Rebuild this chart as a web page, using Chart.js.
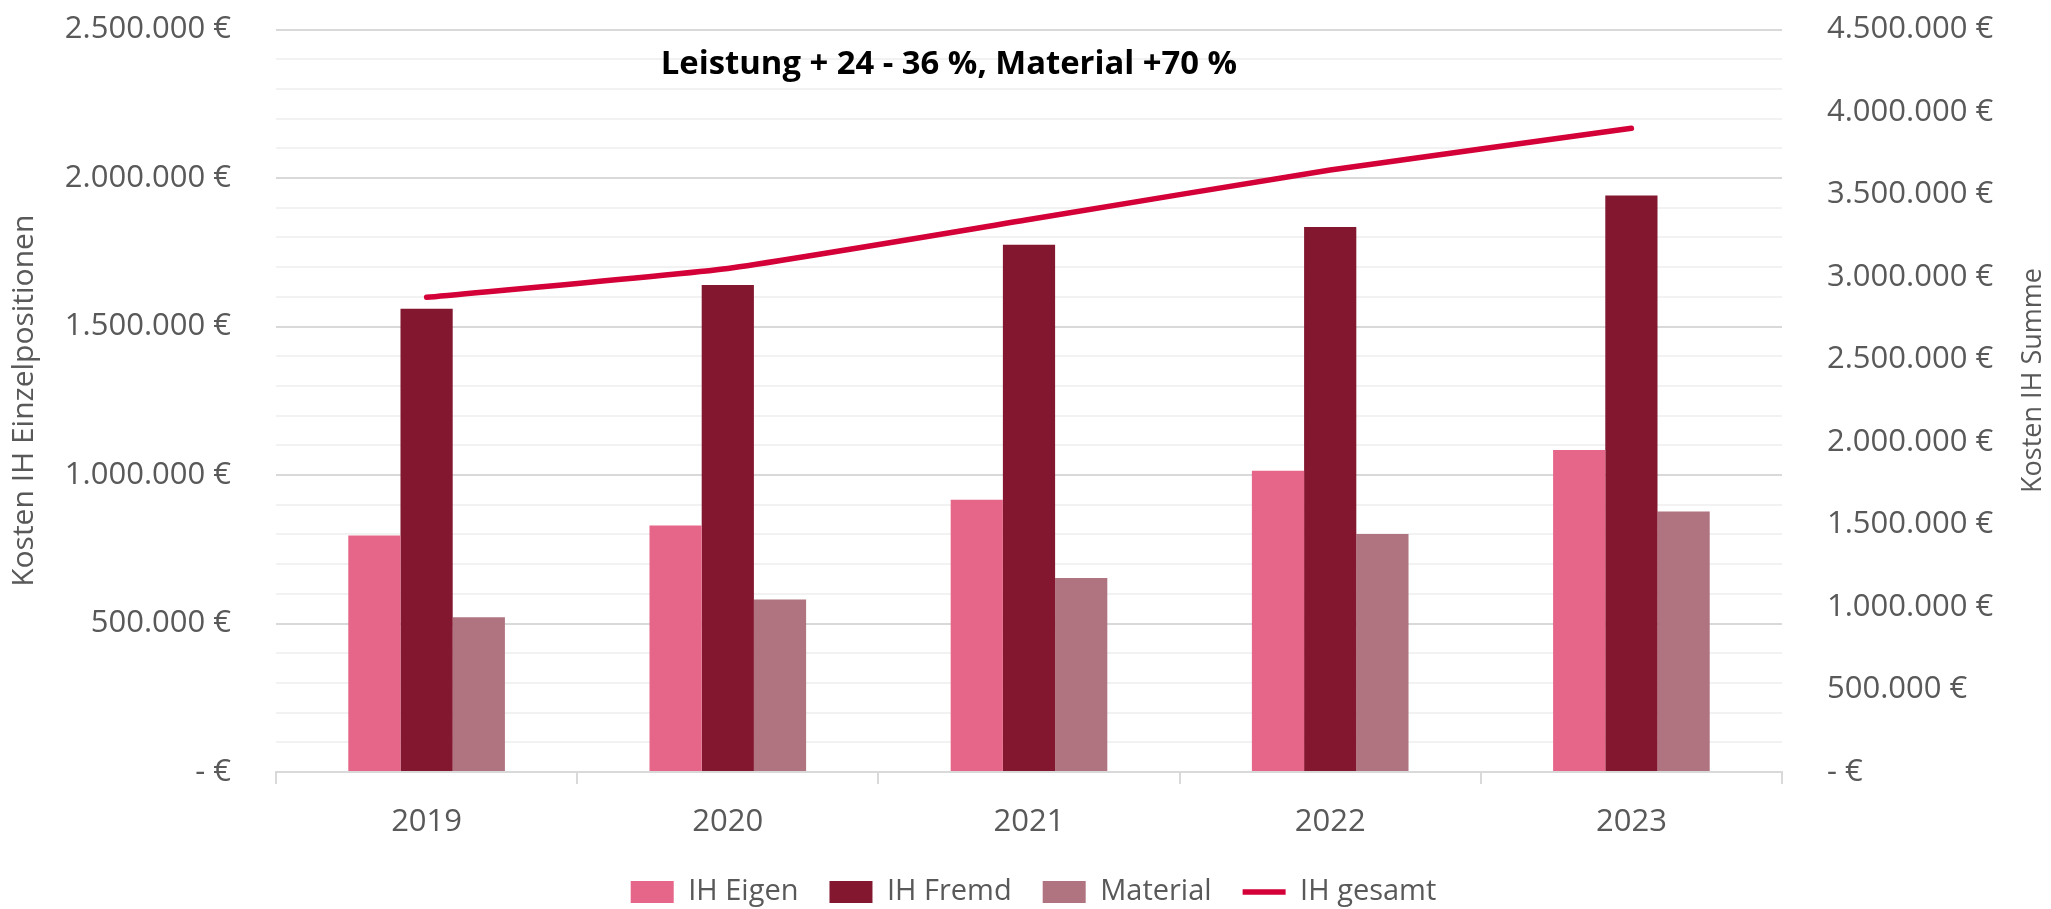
<!DOCTYPE html>
<html lang="de">
<head>
<meta charset="utf-8">
<title>Kosten IH</title>
<script src="https://cdn.jsdelivr.net/npm/chart.js@4.4.1/dist/chart.umd.min.js"></script>
<style>
    html, body { margin: 0; padding: 0; background: #ffffff; }
    #wrap { width: 2051px; height: 909px; position: relative; }
</style>
</head>
<body>
<div id="wrap"><canvas id="ihChart"></canvas></div>
<script>
// Werte
const categories = ['2019', '2020', '2021', '2022', '2023'];
const ihEigen = [796000, 830000, 917000, 1014000, 1084000];
const ihFremd = [1560000, 1640000, 1775000, 1835000, 1941000];
const material = [521000, 581000, 653000, 801000, 877000];
const ihGesamt = [2877000, 3052000, 3348000, 3648000, 3901000];

const leftTickLabels = ['- €', '500.000 €', '1.000.000 €', '1.500.000 €', '2.000.000 €', '2.500.000 €'];
const rightTickLabels = ['- €', '500.000 €', '1.000.000 €', '1.500.000 €', '2.000.000 €',
    '2.500.000 €', '3.000.000 €', '3.500.000 €', '4.000.000 €', '4.500.000 €'];

const chartTitle = 'Leistung + 24 - 36 %, Material +70 %';
const rightAxisTitle = 'Kosten IH Summe';

const textColor = '#595959';
const majorGrid = '#d9d9d9';
const minorGrid = '#f2f2f2';
const noColor = 'rgba(0,0,0,0)';

Chart.defaults.font.family = "'Open Sans', sans-serif";
Chart.defaults.color = textColor;

// Titel in der Zeichenfläche und rechter Achsentitel (liest von unten nach oben)
const extraTexts = {
    id: 'extraTexts',
    afterDraw(chart) {
        const { ctx, chartArea } = chart;
        ctx.save();
        ctx.font = "bold 32.8px 'Open Sans', sans-serif";
        ctx.fillStyle = '#000000';
        ctx.textAlign = 'center';
        ctx.textBaseline = 'alphabetic';
        ctx.fillText(chartTitle, chartArea.left + 673, chartArea.top + 44);

        ctx.font = "27px 'Open Sans', sans-serif";
        ctx.fillStyle = textColor;
        ctx.textBaseline = 'middle';
        ctx.translate(chart.width - 18, chartArea.top + 351);
        ctx.rotate(-Math.PI / 2);
        ctx.fillText(rightAxisTitle, 0, 0);
        ctx.restore();
    }
};

const ctx = document.getElementById('ihChart').getContext('2d');

new Chart(ctx, {
    type: 'bar',
    data: {
        labels: categories,
        datasets: [
            {
                label: 'IH Eigen',
                data: ihEigen,
                backgroundColor: '#e6668a',
                borderWidth: 0,
                pointStyle: 'rect',
                yAxisID: 'y'
            },
            {
                label: 'IH Fremd',
                data: ihFremd,
                backgroundColor: '#82172f',
                borderWidth: 0,
                pointStyle: 'rect',
                yAxisID: 'y'
            },
            {
                label: 'Material',
                data: material,
                backgroundColor: '#b07380',
                borderWidth: 0,
                pointStyle: 'rect',
                yAxisID: 'y'
            },
            {
                type: 'line',
                label: 'IH gesamt',
                data: ihGesamt,
                borderColor: '#d40038',
                backgroundColor: '#d40038',
                borderWidth: 5.5,
                borderCapStyle: 'round',
                borderJoinStyle: 'round',
                tension: 0.15,
                pointRadius: 0,
                pointStyle: 'line',
                fill: false,
                yAxisID: 'y1'
            }
        ]
    },
    options: {
        responsive: true,
        maintainAspectRatio: false,
        animation: false,
        categoryPercentage: 0.52,
        barPercentage: 1.0,
        layout: {
            padding: { top: 29.5, bottom: -7.5, left: 0, right: -16 }
        },
        plugins: {
            legend: {
                position: 'bottom',
                labels: {
                    usePointStyle: true,
                    pointStyleWidth: 43,
                    boxHeight: 22,
                    padding: 31,
                    color: textColor,
                    font: { size: 29 }
                }
            },
            tooltip: { enabled: false }
        },
        scales: {
            x: {
                grid: {
                    drawOnChartArea: false,
                    drawTicks: true,
                    tickLength: 12,
                    color: majorGrid,
                    lineWidth: 2
                },
                border: { color: majorGrid, width: 2 },
                ticks: {
                    padding: 20,
                    color: textColor,
                    font: { size: 31 }
                },
                afterFit(scale) { scale.height = 74.5; }
            },
            y: {
                position: 'left',
                min: 0,
                max: 2500000,
                grid: {
                    drawTicks: true,
                    tickLength: 45,
                    tickColor: noColor,
                    lineWidth: 2,
                    color: (c) => (c.tick && c.tick.value % 500000 === 0) ? majorGrid : minorGrid
                },
                border: { display: false },
                ticks: {
                    stepSize: 100000,
                    autoSkip: false,
                    padding: 0,
                    color: textColor,
                    font: { size: 31 },
                    callback: (v) => v % 500000 === 0 ? leftTickLabels[v / 500000] : ''
                },
                title: {
                    display: true,
                    text: 'Kosten IH Einzelpositionen',
                    color: textColor,
                    font: { size: 30 },
                    padding: { top: 6, bottom: 0 }
                },
                afterFit(scale) { scale.width = 276; }
            },
            y1: {
                position: 'right',
                min: 0,
                max: 4500000,
                grid: {
                    display: true,
                    drawOnChartArea: false,
                    drawTicks: true,
                    tickLength: 45,
                    tickColor: noColor
                },
                border: { display: false },
                ticks: {
                    stepSize: 500000,
                    autoSkip: false,
                    padding: 0,
                    color: textColor,
                    font: { size: 31 },
                    callback: (v) => rightTickLabels[Math.round(v / 500000)]
                },
                afterFit(scale) { scale.width = 285; }
            }
        }
    },
    plugins: [extraTexts]
});
</script>
</body>
</html>
